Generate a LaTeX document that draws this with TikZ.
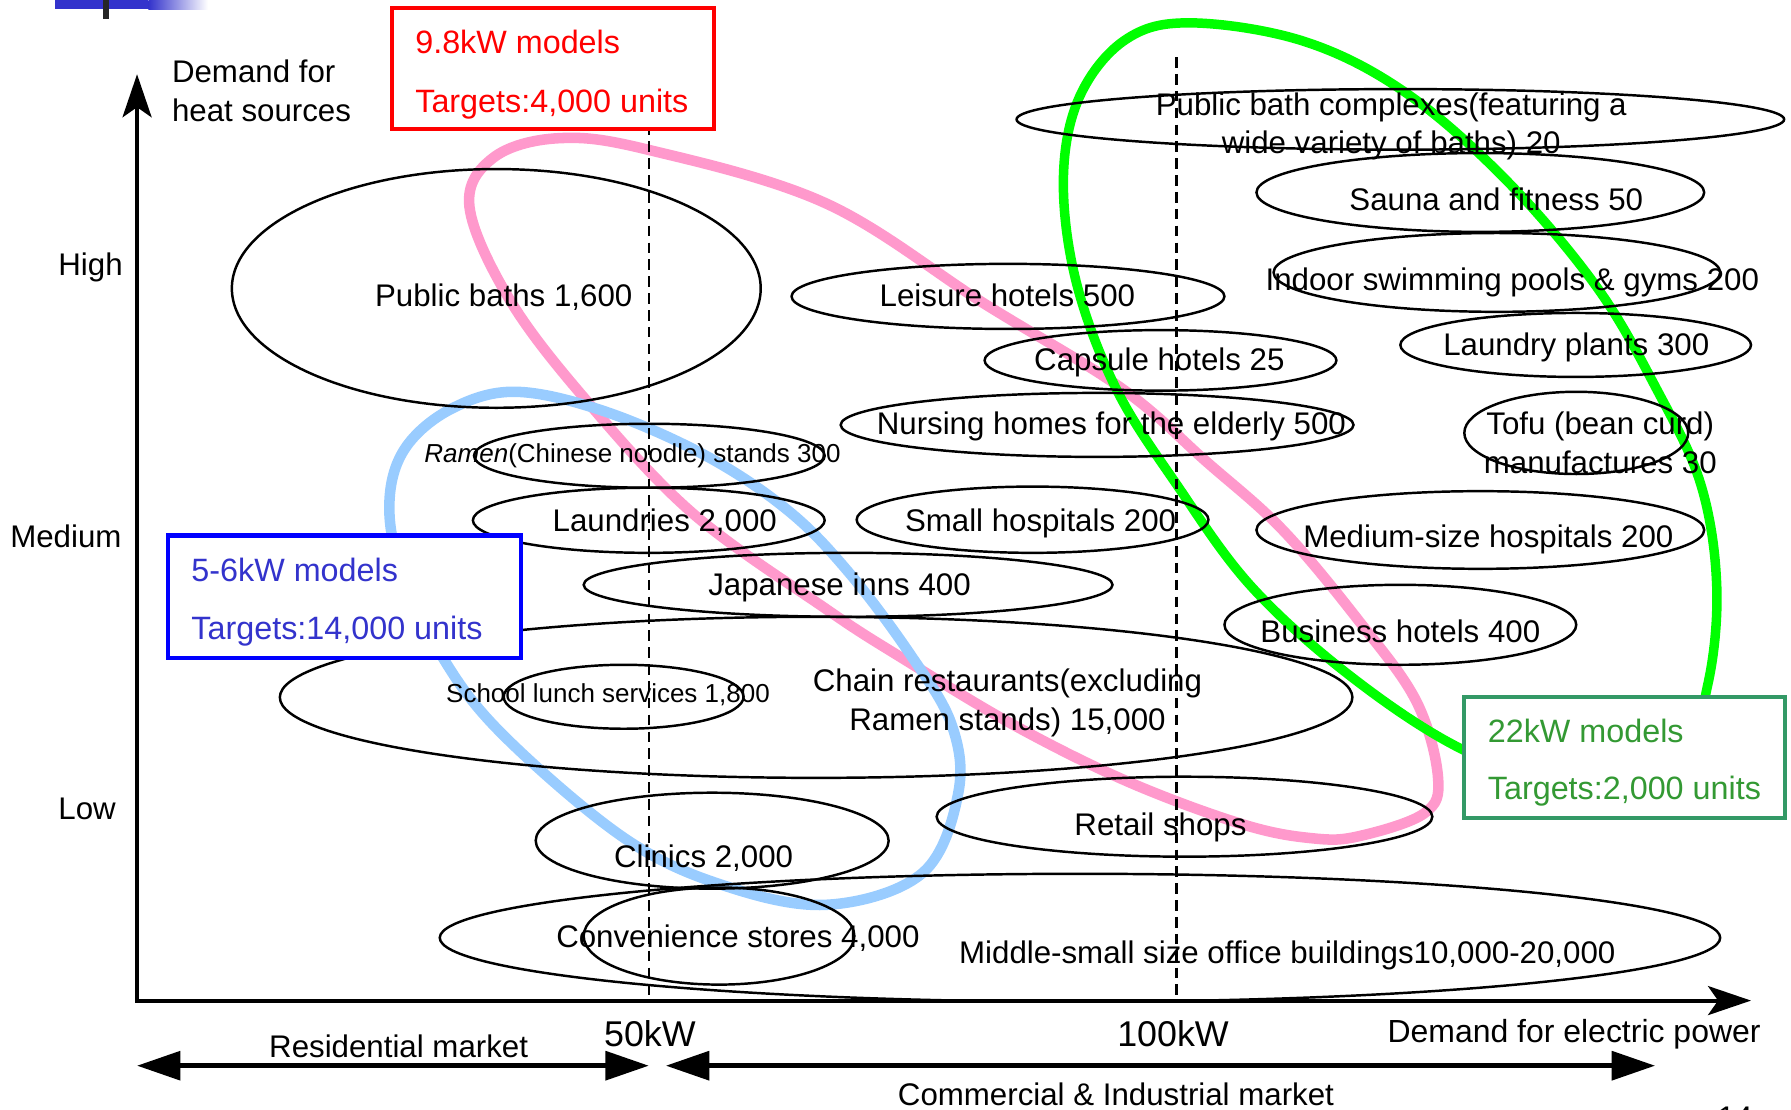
\documentclass[tikz,border=0pt]{standalone}
\usepackage{fontspec}
\setmainfont{Liberation Sans}
\usetikzlibrary{arrows.meta}

\definecolor{pinkring}{RGB}{255,153,204}
\definecolor{bluering}{RGB}{153,204,255}
\definecolor{greenring}{RGB}{0,255,0}
\definecolor{boxgreen}{RGB}{51,153,102}
\definecolor{txtgreen}{RGB}{51,153,51}
\definecolor{txtblue}{RGB}{51,51,204}

\tikzset{
  lbl/.style={inner sep=0pt, anchor=mid, font=\fontsize{8.9}{10.7}\selectfont},
  lblw/.style={lbl, anchor=mid west},
  boxtxt/.style={lblw, font=\fontsize{9.2}{11}\selectfont},
  smalltxt/.style={inner sep=0pt, anchor=mid west, font=\fontsize{7.4}{9}\selectfont},
  kwtxt/.style={inner sep=0pt, anchor=mid, font=\fontsize{10.2}{12}\selectfont},
  bubble/.style={line width=0.7pt},
  ring/.style={line width=3pt, line join=round},
  tbox/.style={fill=white, line width=1.3pt},
  axis/.style={line width=1.15pt, line join=miter,
    {Stealth[length=0.43cm, width=0.29cm, inset=0.1cm]}-{Stealth[length=0.43cm, width=0.29cm, inset=0.1cm]}},
  mkt/.style={line width=1.3pt,
    {Triangle[length=0.434cm, width=0.286cm]}-{Triangle[length=0.434cm, width=0.286cm]}},
  kwline/.style={line width=0.65pt, dash pattern=on 3pt off 1.8pt}
}

\begin{document}
\begin{tikzpicture}[x=0.011422cm, y=-0.011422cm]
\useasboundingbox (0,0) rectangle (1568,971);

% slide decoration
\fill[txtblue] (48,0) rectangle (130,8);
\shade[left color=txtblue, right color=white] (130,0) rectangle (182,8);
\draw[line width=1.7pt, black!85] (93,0) -- (93,17);

% target groups
\draw[ring, pinkring] plot[smooth cycle, tension=0.6] coordinates {
  (411,181) (432,138) (489,121) (567,131) (723,178) (862,266) (982,340)
  (1056,404) (1123,464) (1190,544) (1240,614) (1259,681) (1247,712)
  (1190,732) (1150,734) (1089,722) (989,685) (888,635) (788,575)
  (723,533) (606,449) (512,349) (446,262)};
\draw[ring, bluering] plot[smooth cycle, tension=0.6] coordinates {
  (451,343) (529,360) (618,399) (690,447) (743,501) (797,573) (833,634)
  (839,694) (808,764) (726,792) (636,776) (547,734) (440,643) (386,573)
  (350,495) (341,438) (355,392) (395,358)};
\draw[ring, greenring, line width=2.7pt] plot[smooth cycle, tension=0.6] coordinates {
  (1042,20) (1141,36) (1229,80) (1317,156) (1397,250) (1450,340)
  (1489,424) (1503,514) (1495,600) (1470,660) (1380,690) (1282,657)
  (1185,594) (1096,514) (1030,424) (977,340) (942,246) (931,156)
  (945,85) (985,35)};

% kW limits
\draw[kwline] (568,50) -- (568,876);
\draw[kwline] (1030,50) -- (1030,876);

% markets
\draw[bubble] (434.5,252.5) ellipse [x radius=231.5, y radius=104.5];
\draw[bubble] (882.5,259.5) ellipse [x radius=189.5, y radius=28.5];
\draw[bubble] (1016,315.5) ellipse [x radius=154, y radius=26.5];
\draw[bubble] (960.5,372) ellipse [x radius=224.5, y radius=28];
\draw[bubble] (568.5,399) ellipse [x radius=153.5, y radius=28];
\draw[bubble] (568,455.5) ellipse [x radius=154, y radius=28.5];
\draw[bubble] (904,455) ellipse [x radius=154, y radius=29];
\draw[bubble] (742.5,512) ellipse [x radius=231.5, y radius=28];
\draw[bubble] (714.5,610.5) ellipse [x radius=469.5, y radius=70.5];
\draw[bubble] (546,610) ellipse [x radius=105, y radius=28];
\draw[bubble] (623.5,736) ellipse [x radius=154.5, y radius=42];
\draw[bubble] (629.5,819.5) ellipse [x radius=118.5, y radius=42.5];
\draw[bubble] (945.5,821) ellipse [x radius=560.5, y radius=56];
\draw[bubble] (1037,715) ellipse [x radius=217, y radius=35];
\draw[bubble] (1226,104.5) ellipse [x radius=336, y radius=26.5];
\draw[bubble] (1296,168.5) ellipse [x radius=196, y radius=34.5];
\draw[bubble] (1310.5,238.5) ellipse [x radius=195.5, y radius=34.5];
\draw[bubble] (1379.5,302) ellipse [x radius=153.5, y radius=28];
\draw[bubble] (1380,379) ellipse [x radius=98, y radius=36];
\draw[bubble] (1296,464) ellipse [x radius=196, y radius=34];
\draw[bubble] (1226,547) ellipse [x radius=154, y radius=35];

\node[lbl] (pubbath) at (441,260) {Public baths 1,600};
\node[lbl] (leisure) at (882,260) {Leisure hotels 500};
\node[lbl] (capsule) at (1015,316) {Capsule hotels 25};
\node[lbl] (nursing) at (973,372) {Nursing homes for the elderly 500};
\node[smalltxt] (ramen) at (371,397) {\textit{Ramen}(Chinese noodle) stands 300};
\node[lbl] (laundries) at (582,457) {Laundries 2,000};
\node[lbl] (smallhosp) at (911,457) {Small hospitals 200};
\node[lbl] (inns) at (735,513) {Japanese inns 400};
\node[lbl] (chainA) at (882,597) {Chain restaurants(excluding};
\node[lbl] (chainB) at (882,631) {Ramen stands) 15,000};
\node[smalltxt] (lunch) at (390,607) {School lunch services 1,800};
\node[lbl] (clinics) at (616,751) {Clinics 2,000};
\node[lbl] (convstore) at (646,821) {Convenience stores 4,000};
\node[lbl] (office) at (1127,835) {Middle-small size office buildings10,000-20,000};
\node[lbl] (retail) at (1016,723) {Retail shops};
\node[lbl] (complexA) at (1218,93) {Public bath complexes(featuring a};
\node[lbl] (complexB) at (1218,126) {wide variety of baths) 20};
\node[lbl] (sauna) at (1310,176) {Sauna and fitness 50};
\node[lbl] (pools) at (1324,246) {Indoor swimming pools \& gyms 200};
\node[lbl] (laundryplant) at (1380,303) {Laundry plants 300};
\node[lbl] (tofuA) at (1401,372) {Tofu (bean curd)};
\node[lbl] (tofuB) at (1401,406) {manufactures 30};
\node[lbl] (medhosp) at (1303,471) {Medium-size hospitals 200};
\node[lbl] (business) at (1226,554) {Business hotels 400};

% model boxes
\draw[tbox, draw=red] (343,7) rectangle (625,113);
\node[boxtxt, text=red] (redA) at (363,39) {9.8kW models};
\node[boxtxt, text=red] (redB) at (363,90) {Targets:4,000 units};
\draw[tbox, draw=blue] (147,469) rectangle (456,576);
\node[boxtxt, text=txtblue] (blueA) at (167,501) {5-6kW models};
\node[boxtxt, text=txtblue] (blueB) at (167,552) {Targets:14,000 units};
\draw[tbox, draw=boxgreen, line width=1.15pt] (1282,610) rectangle (1563,716);
\node[boxtxt, text=txtgreen] (greenA) at (1302,642) {22kW models};
\node[boxtxt, text=txtgreen] (greenB) at (1302,692) {Targets:2,000 units};

% axes
\draw[axis] (120,65) -- (120,876) -- (1533,876);
\node[lblw] (heatA) at (150,64) {Demand for};
\node[lblw] (heatB) at (150,98) {heat sources};
\node[lbl, anchor=mid east] (high) at (108,233) {High};
\node[lbl, anchor=mid east] (medium) at (107,471) {Medium};
\node[lbl, anchor=mid east] (low) at (102,709) {Low};
\node[kwtxt] (kwfifty) at (569,908) {50kW};
\node[kwtxt] (kwhundred) at (1027,908) {100kW};
\node[lbl, anchor=mid east, font=\fontsize{9.1}{11}\selectfont] (power) at (1542,905) {Demand for electric power};

\draw[mkt] (120,933) -- (568,933);
\draw[mkt] (583,933) -- (1449,933);
\node[lbl] (resid) at (349,918) {Residential market};
\node[lbl] (commerce) at (977,960) {Commercial \& Industrial market};
\node[lbl, anchor=base] (pageno) at (1519,988) {14};

\end{tikzpicture}
\end{document}
